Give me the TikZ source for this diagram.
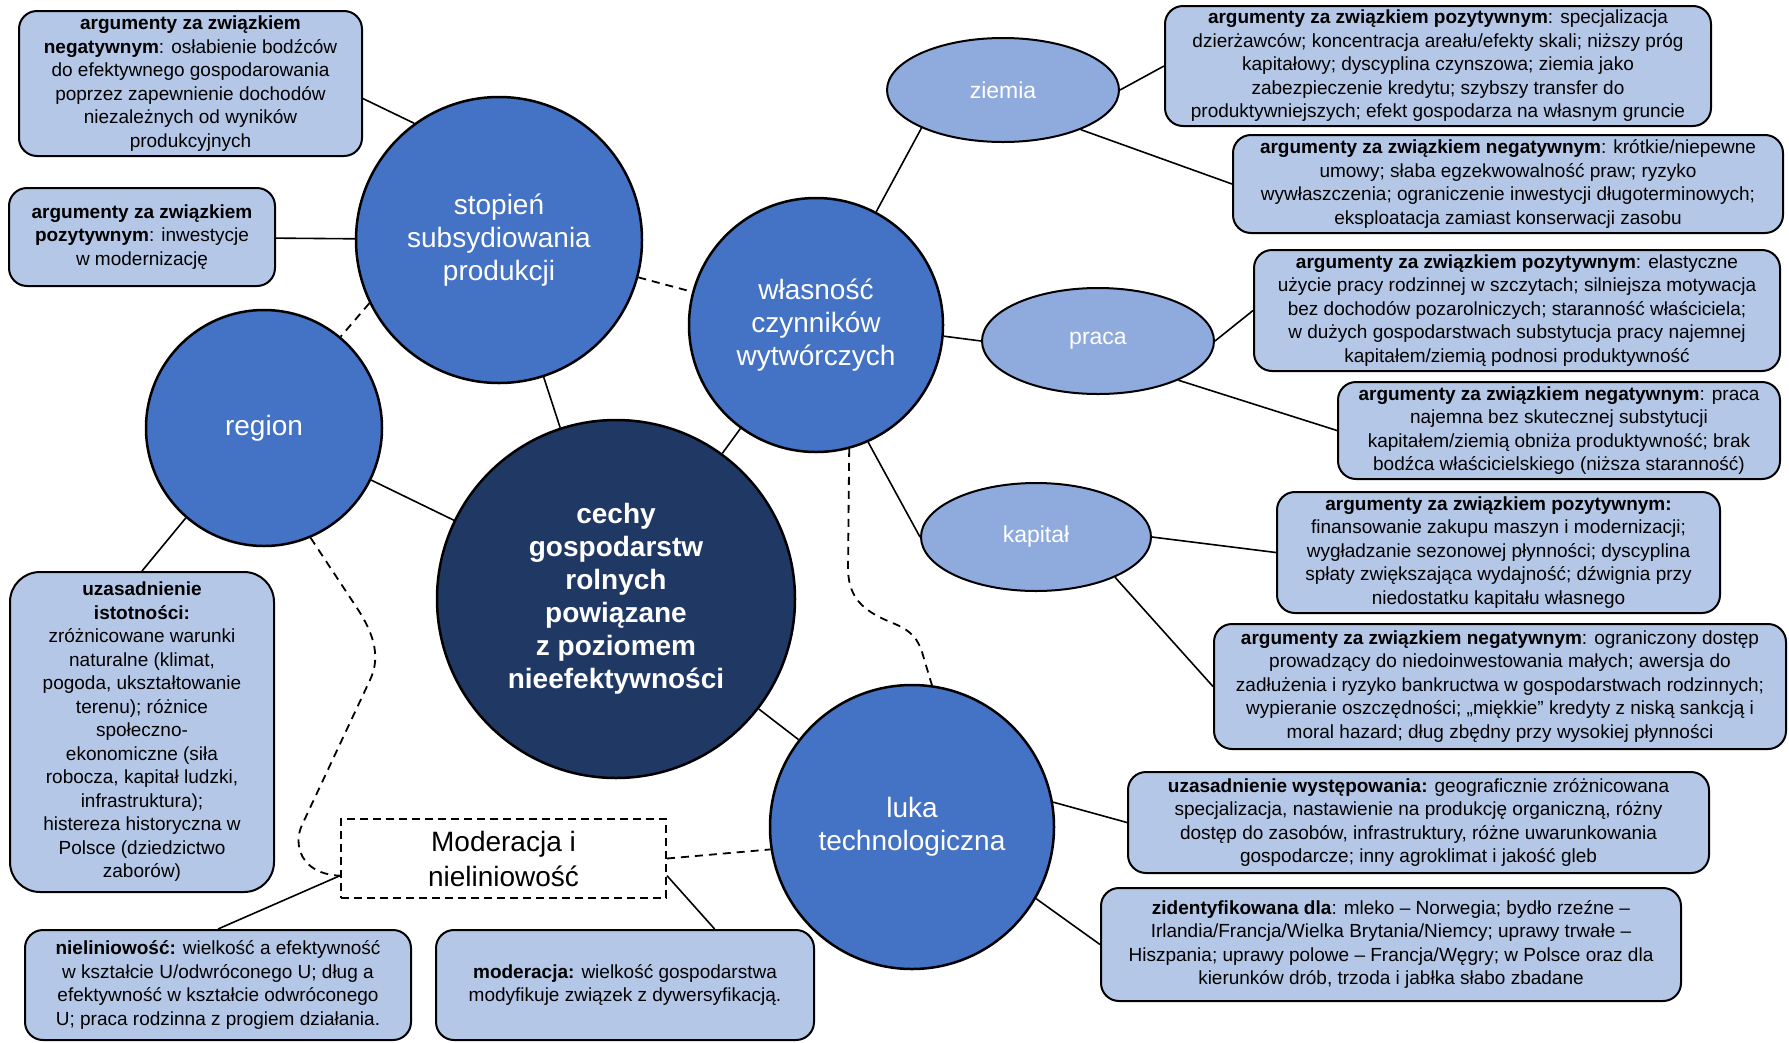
\documentclass[tikz,border=0pt]{standalone}
\usepackage{fontspec}
\setmainfont{Liberation Sans}
\usetikzlibrary{shapes.geometric}
\definecolor{navy}{HTML}{203864}
\definecolor{midblue}{HTML}{4472C4}
\definecolor{ellfill}{HTML}{8FAADC}
\definecolor{boxfill}{HTML}{B4C7E7}
\begin{document}
\begin{tikzpicture}[x=1pt,y=-1pt,
  bigc/.style={circle,draw=black,line width=2.5pt,fill=midblue,text=white,align=center,inner sep=0pt,font=\fontsize{28}{33}\selectfont},
  cenc/.style={bigc,fill=navy,font=\fontsize{28}{33}\selectfont\bfseries},
  ell/.style={ellipse,draw=black,line width=2pt,fill=ellfill,text=white,inner sep=0pt,font=\fontsize{23}{27}\selectfont},
  infobox/.style={rectangle,rounded corners=18pt,draw=black,line width=2pt,fill=boxfill,align=center,inner sep=0pt,font=\fontsize{19}{23.5}\selectfont},
  modbox/.style={rectangle,draw=black,line width=2pt,dashed,dash pattern=on 8pt off 5pt,fill=white,align=center,inner sep=0pt,font=\fontsize{28}{35}\selectfont},
  conn/.style={line width=1.6pt,black},
  dconn/.style={line width=1.8pt,black,dash pattern=on 8pt off 6pt}]
\useasboundingbox (0,0) rectangle (1789,1042);
\fill[white] (0,0) rectangle (1789,1042);

% main circles
\node[cenc,minimum size=358pt] (cen) at (616,599) {cechy\\gospodarstw\\rolnych\\powiązane\\z poziomem\\nieefektywności};
\node[bigc,minimum size=286pt] (stop) at (499,240) {stopień\\subsydiowania\\produkcji};
\node[bigc,minimum size=236pt] (region) at (264,428) {region};
\node[bigc,minimum size=254pt] (wlas) at (816,325) {własność\\czynników\\wytwórczych};
\node[bigc,minimum size=284pt] (luka) at (912,827) {luka\\technologiczna};

% ellipses
\node[ell,minimum width=232pt,minimum height=104pt] (ziemia) at (1003,90) {ziemia};
\node[ell,minimum width=232pt,minimum height=106pt] (praca) at (1098,341) {praca};
\node[ell,minimum width=230pt,minimum height=108pt] (kap) at (1036,537) {kapitał};

% boxes
\node[infobox,minimum width=343pt,minimum height=145pt] (b1) at (190.5,83.5) {\textbf{argumenty za związkiem}\\\textbf{negatywnym}: osłabienie bodźców\\do efektywnego gospodarowania\\poprzez zapewnienie dochodów\\niezależnych od wyników\\produkcyjnych};
\node[infobox,minimum width=266pt,minimum height=98pt] (b2) at (142,237) {\textbf{argumenty za związkiem}\\\textbf{pozytywnym}: inwestycje\\w modernizację};
\node[infobox,minimum width=264pt,minimum height=320pt,rounded corners=30pt] (b3) at (142,732) {\textbf{uzasadnienie}\\\textbf{istotności:}\\zróżnicowane warunki\\naturalne (klimat,\\pogoda, ukształtowanie\\terenu); różnice\\społeczno-\\ekonomiczne (siła\\robocza, kapitał ludzki,\\infrastruktura);\\histereza historyczna w\\Polsce (dziedzictwo\\zaborów)};
\node[infobox,minimum width=386pt,minimum height=110pt] (b4) at (218,985) {\textbf{nieliniowość:} wielkość a efektywność\\w kształcie U/odwróconego U; dług a\\efektywność w kształcie odwróconego\\U; praca rodzinna z progiem działania.};
\node[infobox,minimum width=378pt,minimum height=110pt] (b5) at (625,985) {\textbf{moderacja:} wielkość gospodarstwa\\modyfikuje związek z dywersyfikacją.};
\node[modbox,minimum width=325pt,minimum height=79pt] (mod) at (503.5,858.5) {Moderacja i\\nieliniowość};
\node[infobox,minimum width=581pt,minimum height=101pt] (b7) at (1418.5,822.5) {\textbf{uzasadnienie występowania:} geograficznie zróżnicowana\\specjalizacja, nastawienie na produkcję organiczną, różny\\dostęp do zasobów, infrastruktury, różne uwarunkowania\\gospodarcze; inny agroklimat i jakość gleb};
\node[infobox,minimum width=580pt,minimum height=113pt] (b8) at (1391,944.5) {\textbf{zidentyfikowana dla}: mleko – Norwegia; bydło rzeźne –\\Irlandia/Francja/Wielka Brytania/Niemcy; uprawy trwałe –\\Hiszpania; uprawy polowe – Francja/Węgry; w Polsce oraz dla\\kierunków drób, trzoda i jabłka słabo zbadane};
\node[infobox,minimum width=572pt,minimum height=125pt] (b9) at (1500,686.5) {\textbf{argumenty za związkiem negatywnym}: ograniczony dostęp\\prowadzący do niedoinwestowania małych; awersja do\\zadłużenia i ryzyko bankructwa w gospodarstwach rodzinnych;\\wypieranie oszczędności; „miękkie” kredyty z niską sankcją i\\moral hazard; dług zbędny przy wysokiej płynności};
\node[infobox,minimum width=443pt,minimum height=121pt] (b10) at (1498.5,552.5) {\textbf{argumenty za związkiem pozytywnym:}\\finansowanie zakupu maszyn i modernizacji;\\wygładzanie sezonowej płynności; dyscyplina\\spłaty zwiększająca wydajność; dźwignia przy\\niedostatku kapitału własnego};
\node[infobox,minimum width=442pt,minimum height=97pt] (b11) at (1559,430.5) {\textbf{argumenty za związkiem negatywnym}: praca\\najemna bez skutecznej substytucji\\kapitałem/ziemią obniża produktywność; brak\\bodźca właścicielskiego (niższa staranność)};
\node[infobox,minimum width=526pt,minimum height=121pt] (b12) at (1517,310.5) {\textbf{argumenty za związkiem pozytywnym}: elastyczne\\użycie pracy rodzinnej w szczytach; silniejsza motywacja\\bez dochodów pozarolniczych; staranność właściciela;\\w dużych gospodarstwach substytucja pracy najemnej\\kapitałem/ziemią podnosi produktywność};
\node[infobox,minimum width=550pt,minimum height=98pt] (b13) at (1508,184) {\textbf{argumenty za związkiem negatywnym}: krótkie/niepewne\\umowy; słaba egzekwowalność praw; ryzyko\\wywłaszczenia; ograniczenie inwestycji długoterminowych;\\eksploatacja zamiast konserwacji zasobu};
\node[infobox,minimum width=546pt,minimum height=120pt] (b14) at (1438,66) {\textbf{argumenty za związkiem pozytywnym}: specjalizacja\\dzierżawców; koncentracja areału/efekty skali; niższy próg\\kapitałowy; dyscyplina czynszowa; ziemia jako\\zabezpieczenie kredytu; szybszy transfer do\\produktywniejszych; efekt gospodarza na własnym gruncie};

% solid connectors
\draw[conn] (b1.-5) -- (stop.126);
\draw[conn] (b2) -- (stop);
\draw[conn] (stop) -- (cen);
\draw[conn] (region) -- (cen);
\draw[conn] (region.229) -- (b3.north);
\draw[conn] (cen) -- (wlas);
\draw[conn] (cen) -- (luka);
\draw[conn] (wlas.62) -- (ziemia.205);
\draw[conn] (ziemia.0) -- (b14.west);
\draw[conn] (ziemia.-27) -- (b13.west);
\draw[conn] (wlas.-5) -- (praca.west);
\draw[conn] (praca.east) -- (b12.west);
\draw[conn] (praca.-26) -- (b11.west);
\draw[conn] (wlas.-66) -- (kap.west);
\draw[conn] (kap.east) -- (b10.west);
\draw[conn] (kap.-27) -- (b9.west);
\draw[conn] (luka.10) -- (b7.west);
\draw[conn] (luka.-30) -- (b8.west);
\draw[conn] (mod.186) -- (b4.north);
\draw[conn] (mod.-6) -- (b5.32);

% dashed connectors
\draw[dconn] (stop) -- (wlas);
\draw[dconn] (stop.206) -- (region.50);
\draw[dconn] (mod.east) -- (luka.189);
\draw[dconn] (region.-67) -- (355,605) .. controls (372,630) and (382,655) .. (370,680) -- (302,825) .. controls (293,844) and (300,874) .. (mod.186);
\draw[dconn] (wlas.-75) -- (848,570) .. controls (849,600) and (865,612) .. (895,624) .. controls (912,631) and (918,640) .. (922,652) -- (luka.82);
\end{tikzpicture}
\end{document}
